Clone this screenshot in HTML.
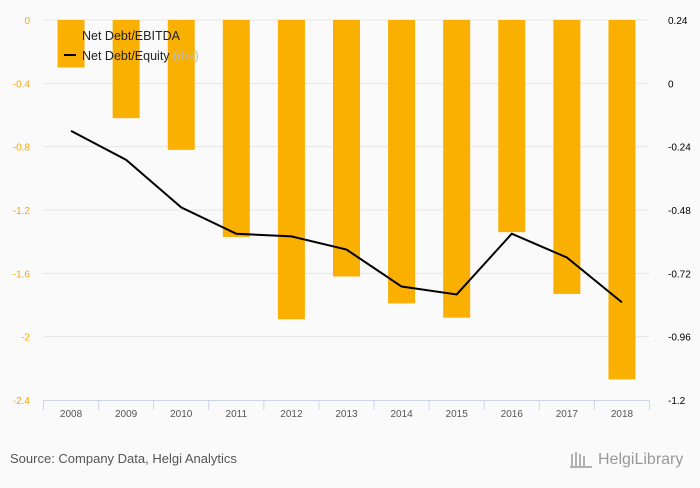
<!DOCTYPE html>
<html><head><meta charset="utf-8"><style>
body{margin:0;background:#fafafa;font-family:"Liberation Sans",sans-serif}
</style></head><body>
<svg id="c" width="700" height="483" xmlns="http://www.w3.org/2000/svg">
<rect width="700" height="483" fill="#fafafa"/>
<g id="grid"></g><g id="bars"></g><g id="axes"></g><g id="line"></g>
<g font-size="12.5" fill="#222">
<text x="82" y="40">Net Debt/EBITDA</text>
<line x1="64" y1="55" x2="76" y2="55" stroke="#000" stroke-width="2"/>
<text x="82" y="60">Net Debt/Equity <tspan fill="#bbb">(rhs)</tspan></text>
</g>
<text x="10" y="463" font-size="13" fill="#555">Source: Company Data, Helgi Analytics</text>
<text x="598" y="464" font-size="16" fill="#999">HelgiLibrary</text>
<g stroke="#999" stroke-width="1.5"><line x1="572" y1="466" x2="572" y2="454"/><line x1="576" y1="466" x2="576" y2="452"/><line x1="580" y1="466" x2="580" y2="454"/><line x1="584" y1="466" x2="584" y2="456"/><line x1="570" y1="467" x2="592" y2="467"/></g>
</svg>
<script>
const years=["2008","2009","2010","2011","2012","2013","2014","2015","2016","2017","2018"];
const ebitda=[-0.3,-0.62,-0.82,-1.37,-1.89,-1.62,-1.79,-1.88,-1.34,-1.73,-2.27];
const equity=[-0.18,-0.29,-0.47,-0.57,-0.58,-0.63,-0.77,-0.80,-0.57,-0.66,-0.83];
const leftTicks=[0,-0.4,-0.8,-1.2,-1.6,-2,-2.4];
const rightTicks=[0.24,0,-0.24,-0.48,-0.72,-0.96,-1.2];
const NS="http://www.w3.org/2000/svg";
const x0=43.5,x1=649.5,yT=20,yB=400;
const step=(x1-x0)/years.length;
const xc=i=>x0+step*(i+0.5);
const yL=v=>yT+(0-v)/2.4*(yB-yT);
const yR=v=>yT+(0.24-v)/1.44*(yB-yT);
function mk(t,a,p){const e=document.createElementNS(NS,t);for(const k in a)e.setAttribute(k,a[k]);p.appendChild(e);return e;}
const g=document.getElementById('grid'),b=document.getElementById('bars'),ax=document.getElementById('axes'),ln=document.getElementById('line');
leftTicks.forEach((v,i)=>{
 if(v!==-2.4){const l=mk('line',{x1:x0,x2:x1,y1:yL(v),y2:yL(v),stroke:'#e6e6e6'},g);
 
 }
 const t=mk('text',{x:30,y:yL(v)+4,'text-anchor':'end','font-size':'10','fill':'#f7a900'},ax);t.textContent=String(v);
 
 
});
rightTicks.forEach(v=>{
 const t=mk('text',{x:668,y:yR(v)+4,'font-size':'10','fill':'#000'},ax);t.textContent=String(v);
 
 
});
ebitda.forEach((v,i)=>{
 const r=mk('rect',{x:xc(i)-13.5,y:yL(0),width:27,height:yL(v)-yL(0),fill:'#f9b000'},b);
 
 
});
const axl=mk('line',{x1:x0,x2:x1,y1:yB+0.5,y2:yB+0.5,stroke:'#ccd6eb'},ax);


for(let i=0;i<=years.length;i++){
 const tk=mk('line',{x1:x0+step*i,x2:x0+step*i,y1:yB,y2:yB+10,stroke:'#ccd6eb'},ax);
 
 
}
years.forEach((y,i)=>{
 const t=mk('text',{x:xc(i),y:yB+17,'text-anchor':'middle','font-size':'10','fill':'#555'},ax);t.textContent=y;
 
 
});
const p=mk('polyline',{points:equity.map((v,i)=>xc(i)+','+yR(v)).join(' '),fill:'none',stroke:'#000','stroke-width':'2'},ln);


</script>
</body></html>
